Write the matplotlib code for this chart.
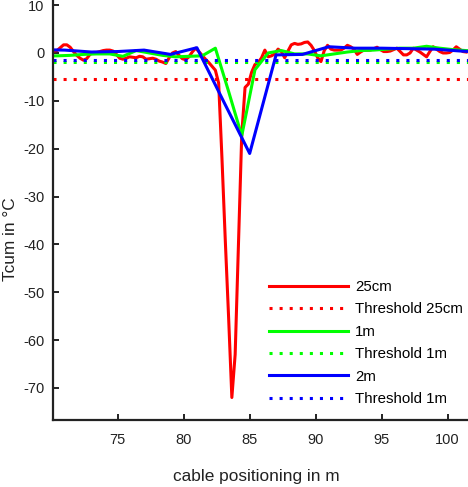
import matplotlib
matplotlib.use('Agg')
import matplotlib.pyplot as plt
import numpy as np

plt.rcParams['font.family'] = ['Liberation Sans', 'DejaVu Sans']
plt.rcParams['axes.unicode_minus'] = False

# 25 cm resolution (0.25 m sampling, starting at 69.9 m)
x25_start = 69.9
x25_step = 0.25
t25 = [0.2, 0.4, 0.5, 1.1, 1.7, 1.7, 1.2, 0.3, -0.5, -1.1,
       -1.5, -1.2, -0.3, 0.1, 0.1, 0.3, 0.5, 0.6, 0.6, 0.4,
       -0.3, -1.1, -1.3, -1.1, -0.8, -0.9, -1.0, -0.7, -0.8, -1.3,
       -1.2, -1.1, -1.3, -1.7, -1.9, -2.2, -1.0, 0.0, 0.3, -0.5,
       -1.2, -1.4, -0.8, 0.2, 1.0, 0.3, -0.5, -1.3, -2.0, -2.8,
       -3.6, -6.3, -22, -39, -55, -72, -63, -40, -17, -7.2,
       -6.5, -4.0, -2.4, -2.0, -1.0, 0.6, -0.8, -0.6, -0.2, 0.8,
       0.3, -1.0, 0.4, 1.7, 2.0, 1.8, 1.9, 2.2, 2.3, 1.6,
       0.5, -1.0, -1.8, 0.5, 1.6, 0.8, 0.6, 0.6, 0.6, 1.0,
       1.6, 1.3, 0.8, -0.3, 0.2, 0.6, 0.6, 0.6, 0.9, 1.2,
       0.7, 0.3, 0.3, 0.4, 0.7, 1.0, 0.3, -0.4, -0.4, 0.0,
       1.0, 0.6, 0.2, -0.3, -0.8, 0.3, 1.3, 0.8, 0.3, 0.0,
       0.0, 0.1, 0.6, 1.3, 0.8, 0.3, 0.2]

# 1 m resolution
x1m = [69.4, 70.4, 71.4, 72.4, 73.4, 74.4, 75.4, 76.4, 77.4, 78.4,
       79.4, 80.4, 81.4, 82.4, 83.4, 84.4, 85.4, 86.4, 87.4, 88.4,
       89.4, 90.4, 91.4, 92.4, 93.4, 94.4, 95.4, 96.4, 97.4, 98.4,
       99.4, 100.4, 101.4, 102.4]
t1m = [-0.6, -0.6, -0.5, -0.3, -0.2, -0.2, -0.7, 0.5, 0.0, -0.5,
       -0.8, -0.7, -0.6, 1.0, -8.0, -17.3, -3.5, 0.0, 0.5, -0.2,
       -0.2, -0.6, -0.2, 0.2, 0.5, 0.6, 0.8, 1.0, 1.0, 1.4,
       1.0, 0.7, 0.5, 0.5]

# 2 m resolution
x2m = [69, 71, 73, 75, 77, 79, 81, 83, 85, 87, 89, 91, 93, 95, 97, 99, 101, 103]
t2m = [0.7, 0.6, 0.2, 0.3, 0.6, -0.3, 1.1, -10, -21, -0.4, -0.3, 1.3,
       1.0, 1.0, 0.9, 0.8, 0.4, 0.1]

thr_25cm = -5.4
thr_1m = -1.8
thr_2m = -1.4

x25 = x25_start + x25_step * np.arange(len(t25))

fig = plt.figure(figsize=(4.68, 4.87), dpi=100)
ax = fig.add_axes([53 / 468, 67 / 487, 415 / 468, 420 / 487])

lw = 2.2
dot = (0, (1, 2.3))
ax.plot(x25, t25, color=(1, 0, 0), lw=lw, label='25cm')
ax.axhline(thr_25cm, color=(1, 0, 0), lw=lw, ls=dot, label='Threshold 25cm')
ax.plot(x1m, t1m, color=(0, 1, 0), lw=lw, label='1m')
ax.axhline(thr_1m, color=(0, 1, 0), lw=lw, ls=dot, label='Threshold 1m')
ax.plot(x2m, t2m, color=(0, 0, 1), lw=lw, label='2m')
ax.axhline(thr_2m, color=(0, 0, 1), lw=lw, ls=dot, label='Threshold 1m')

ax.set_xlim(70.1, 101.54)
ax.set_ylim(-76.7, 11.07)
ax.set_xticks([75, 80, 85, 90, 95, 100])
ax.set_yticks(np.arange(-70, 11, 10))

for s in ['top', 'right']:
    ax.spines[s].set_visible(False)
for s in ['left', 'bottom']:
    ax.spines[s].set_linewidth(1.6)
    ax.spines[s].set_color('#222222')

ax.tick_params(direction='in', length=4, width=1.4, labelsize=10.5, colors='#222222')
ax.tick_params(axis='y', pad=6)
ax.tick_params(axis='x', pad=9)

ax.set_xlabel('cable positioning in m', fontsize=12.4, color='#222222')
ax.set_ylabel('Tcum in °C', fontsize=12.4, color='#222222')
ax.xaxis.set_label_coords(0.489, -0.117)
ax.yaxis.set_label_coords(-0.084, 0.431)

ax.legend(loc='upper left', bbox_to_anchor=(269 / 468, 1 - 280 / 487),
          bbox_transform=fig.transFigure, frameon=False, fontsize=10.8,
          handlelength=5.27, handletextpad=0.47, labelspacing=0.56,
          borderpad=0, borderaxespad=0)

fig.savefig('out.png', dpi=100)
